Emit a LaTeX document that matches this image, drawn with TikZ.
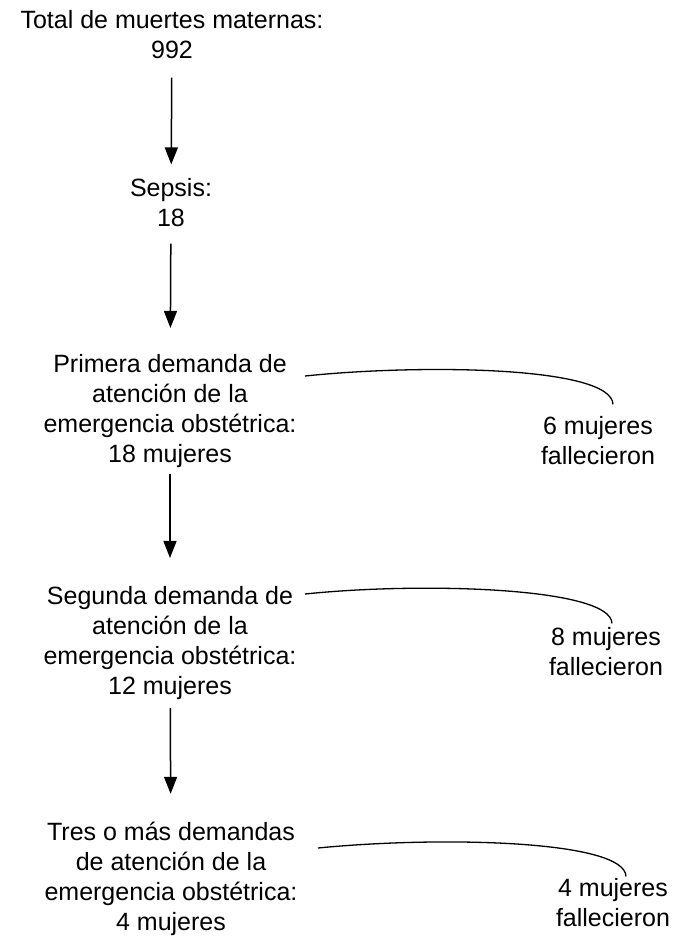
\documentclass[tikz,border=0pt]{standalone}
\usepackage{fontspec}
\setmainfont{Liberation Sans}
\usetikzlibrary{arrows.meta}
\usetikzlibrary{positioning}

\tikzset{
  blk/.style={align=center, inner sep=0pt, font=\fontsize{12.5pt}{15pt}\selectfont},
  arr/.style={-{Triangle[width=6.5pt,length=8.5pt]}, line width=0.75pt},
  lnk/.style={line width=0.65pt}
}

\begin{document}
\begin{tikzpicture}[x=0.5pt, y=-0.5pt]
        \useasboundingbox (0,0) rectangle (673,939);

        % main column
        \node (total) at (172,35) [blk] {Total de muertes maternas:\\992};
        \node (sepsis) at (171,203) [blk] {Sepsis:\\18};
        \node (dem1) at (170,411) [blk] {Primera demanda de\\atención de la\\emergencia obstétrica:\\18 mujeres};
        \node (dem2) at (170,643) [blk] {Segunda demanda de\\atención de la\\emergencia obstétrica:\\12 mujeres};
        \node (dem3) at (171,879) [blk] {Tres o más demandas\\de atención de la\\emergencia obstétrica:\\4 mujeres};

        % deaths
        \node (fal1) at (598,441) [blk] {6 mujeres\\fallecieron};
        \node (fal2) at (606,652) [blk] {8 mujeres\\fallecieron};
        \node (fal3) at (613,903) [blk] {4 mujeres\\fallecieron};

        % arrows
        \draw[arr, shorten <=9pt, shorten >=7pt] (total) -- (sepsis);
        \draw[arr, shorten <=8pt, shorten >=13pt] (sepsis) -- (dem1);
        \draw[arr, shorten <=3pt, shorten >=14pt] (dem1) -- (dem2);
        \draw[arr, shorten <=4pt, shorten >=14pt] (dem2) -- (dem3);

        % curved links
        \coordinate (s1) at (305,376);
        \coordinate (s2) at (305,594);
        \coordinate (s3) at (318,848);
        \draw[lnk] (s1) .. controls (420,364) and (612,366) .. ([xshift=7.5pt,yshift=6pt]fal1.north);
        \draw[lnk] (s2) .. controls (420,582) and (611,587) .. ([xshift=3pt,yshift=2pt]fal2.north);
        \draw[lnk] (s3) .. controls (440,836) and (625,840) .. ([xshift=6.5pt,yshift=1pt]fal3.north);
\end{tikzpicture}
\end{document}
